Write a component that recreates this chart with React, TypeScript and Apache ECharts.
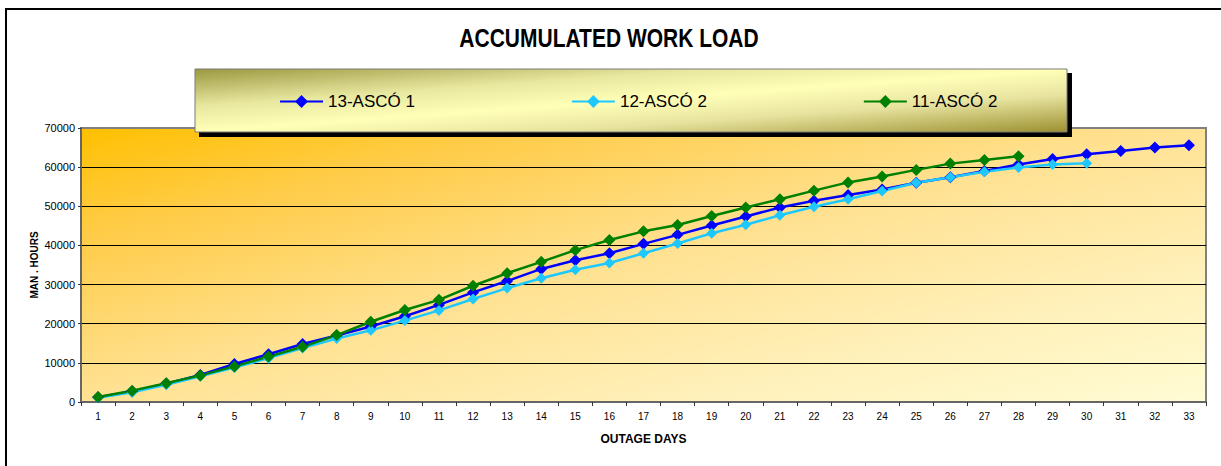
import React, { useEffect, useRef } from "react";
import * as echarts from "echarts";

const days: string[] = Array.from({ length: 33 }, (_, i) => String(i + 1));

const seriesNames = ["13-ASCÓ 1", "12-ASCÓ 2", "11-ASCÓ 2"];

const ascoA1: number[] = [
  1200, 2700, 4700, 6900, 9700, 12200, 14800, 17000, 19300, 21900, 24800,
  28000, 30900, 34000, 36200, 38000, 40400, 42700, 45100, 47400, 49700, 51400,
  52900, 54300, 56000, 57400, 59000, 60700, 62100, 63300, 64100, 65000, 65600,
];

const ascoB2: number[] = [
  1100, 2500, 4400, 6600, 8800, 11200, 13800, 16200, 18300, 20800, 23400,
  26300, 29100, 31600, 33800, 35500, 38000, 40500, 43100, 45300, 47700, 49900,
  51800, 53900, 56000, 57400, 58800, 59900, 60700, 61000,
];

const ascoC2: number[] = [
  1300, 2900, 4800, 6800, 9100, 11600, 14100, 17100, 20500, 23500, 26100,
  29700, 32900, 35800, 38800, 41400, 43600, 45200, 47500, 49700, 51800, 54000,
  56100, 57600, 59300, 60900, 61800, 62800,
];

const yTicks = { min: 0, max: 70000, interval: 10000 };

const FONT = "Liberation Sans, Arial, sans-serif";

// Excel-style diagonal gradient: isolines follow the box diagonal (global pixel coords)
function skewGradient(x: number, y: number, w: number, h: number, stops: { offset: number; color: string }[]) {
  const k = 2 / (1 / (w * w) + 1 / (h * h));
  return {
    type: "linear",
    x,
    y,
    x2: x + k / w,
    y2: y + k / h,
    global: true,
    colorStops: stops,
  };
}

export default function App() {
  const ref = useRef<HTMLDivElement>(null);

  useEffect(() => {
    if (!ref.current) return;
    const chart = echarts.init(ref.current, undefined, { renderer: "svg" });

    const gx = 81, gy = 128, gw = 1125, gh = 274;
    const lx = 195, ly = 69, lw = 872, lh = 63;

    const plotGradient = skewGradient(gx, gy, gw, gh, [
      { offset: 0, color: "#ffc000" },
      { offset: 0.2, color: "#ffcc48" },
      { offset: 0.5, color: "#ffe294" },
      { offset: 0.75, color: "#fff0b8" },
      { offset: 1, color: "#fffcd4" },
    ]);
    const legendGradient = skewGradient(lx, ly, lw, lh, [
      { offset: 0, color: "#9c9840" },
      { offset: 0.3, color: "#e8e8a0" },
      { offset: 0.5, color: "#ffffb8" },
      { offset: 0.7, color: "#e8e4a0" },
      { offset: 1, color: "#9c9030" },
    ]);

    const mkSeries = (name: string, data: number[], color: string, size: number) => ({
      name,
      type: "line",
      data,
      symbol: "diamond",
      symbolSize: size,
      lineStyle: { color, width: 2.5 },
      itemStyle: { color },
      emphasis: { disabled: true },
    });

    chart.setOption({
      animation: false,
      backgroundColor: "#ffffff",
      textStyle: { fontFamily: FONT },
      grid: {
        left: gx,
        top: gy,
        width: gw,
        height: gh,
        show: true,
        backgroundColor: "transparent",
        borderColor: "#808080",
        borderWidth: 2,
      },
      legend: {
        data: seriesNames,
        left: 274,
        top: 88,
        itemWidth: 43,
        itemHeight: 16,
        itemGap: 156,
        z: 20,
        textStyle: { fontSize: 17, color: "#000", fontFamily: FONT },
      },
      xAxis: {
        type: "category",
        data: days,
        boundaryGap: true,
        name: "OUTAGE DAYS",
        nameLocation: "middle",
        nameGap: 31,
        nameMoveOverlap: false,
        nameTextStyle: { fontSize: 12, fontWeight: "bold", color: "#000", fontFamily: FONT },
        axisLine: { lineStyle: { color: "#666", width: 2 } },
        axisTick: { show: true, length: 4, alignWithLabel: false, lineStyle: { color: "#333" } },
        axisLabel: { fontSize: 10, color: "#000", margin: 9, interval: 0 },
        splitLine: { show: false },
      },
      yAxis: {
        type: "value",
        min: yTicks.min,
        max: yTicks.max,
        interval: yTicks.interval,
        name: "MAN . HOURS",
        nameLocation: "middle",
        nameRotate: 90,
        nameGap: 42,
        nameMoveOverlap: false,
        nameTextStyle: { fontSize: 10, fontWeight: "bold", color: "#000", fontFamily: FONT },
        axisLine: { show: true, lineStyle: { color: "#666", width: 2 } },
        axisTick: { show: true, length: 3, lineStyle: { color: "#333" } },
        axisLabel: {
          fontSize: 11,
          color: "#000",
          margin: 6,
          formatter: (v: number) => String(v),
        },
        splitLine: {
          show: true,
          showMinLine: false,
          showMaxLine: false,
          lineStyle: { color: "#000", width: 1 },
        },
      },
      graphic: [
        {
          type: "rect",
          z: -10,
          silent: true,
          shape: { x: gx, y: gy, width: gw, height: gh },
          style: { fill: plotGradient },
        },
        {
          type: "rect",
          z: 0,
          silent: true,
          shape: { x: 6, y: 9, width: 1400, height: 700 },
          style: { fill: "none", stroke: "#000", lineWidth: 2 },
        },
        {
          type: "text",
          x: 609,
          y: 38,
          scaleX: 0.84,
          z: 10,
          style: {
            text: "ACCUMULATED WORK LOAD",
            fontSize: 25,
            fontWeight: "bold",
            fontFamily: FONT,
            fill: "#000",
            textAlign: "center",
            textVerticalAlign: "middle",
            align: "center",
            verticalAlign: "middle",
          },
        },
        {
          type: "rect",
          z: 8,
          silent: true,
          shape: { x: lx + 4, y: ly + 4, width: lw + 1, height: lh + 1 },
          style: { fill: "#000" },
        },
        {
          type: "rect",
          z: 9,
          silent: true,
          shape: { x: lx, y: ly, width: lw, height: lh },
          style: { fill: legendGradient, stroke: "#7a7a7a", lineWidth: 1 },
        },
      ],
      series: [
        mkSeries(seriesNames[0], ascoA1, "#0000ff", 12),
        mkSeries(seriesNames[1], ascoB2, "#1ec8ff", 11),
        mkSeries(seriesNames[2], ascoC2, "#008000", 12),
      ],
    });

    return () => chart.dispose();
  }, []);

  return (
    <div
      ref={ref}
      style={{ position: "absolute", left: 0, top: 0, width: 1221, height: 466 }}
    />
  );
}
